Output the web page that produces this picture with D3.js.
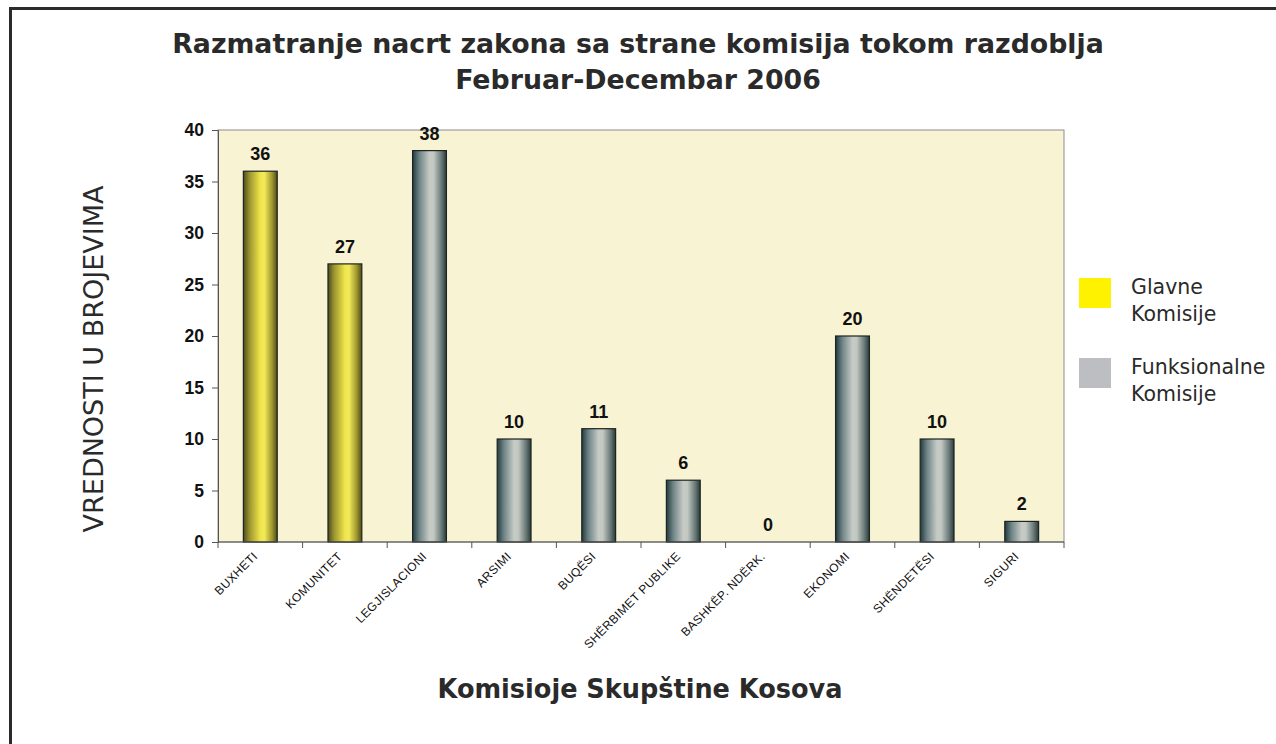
<!DOCTYPE html>
<html>
<head>
<meta charset="utf-8">
<script src="https://cdn.jsdelivr.net/npm/d3@7/dist/d3.min.js"></script>
<style>
  html, body { margin: 0; padding: 0; background: #fff; }
  svg { display: block; }
</style>
</head>
<body>
<svg id="chart" width="1276" height="744"></svg>
<script>
// Committees and number of draft laws reviewed
const categories = ["BUXHETI", "KOMUNITET", "LEGJISLACIONI", "ARSIMI", "BUQËSI",
  "SHËRBIMET PUBLIKE", "BASHKËP. NDËRK.", "EKONOMI", "SHËNDETËSI", "SIGURI"];
const values = [36, 27, 38, 10, 11, 6, 0, 20, 10, 2];
const groups = ["main", "main", "func", "func", "func", "func", "func", "func", "func", "func"];
const yTicks = [0, 5, 10, 15, 20, 25, 30, 35, 40];
const legendItems = [
  { key: "main", lines: ["Glavne", "Komisije"] },
  { key: "func", lines: ["Funksionalne", "Komisije"] }
];
const titleLines = ["Razmatranje nacrt zakona sa strane komisija tokom razdoblja", "Februar-Decembar 2006"];
const yTitle = "VREDNOSTI U BROJEVIMA";
const xTitle = "Komisioje Skupštine Kosova";

const svg = d3.select("#chart");
const plot = { left: 218, right: 1064, top: 130, bottom: 542 };
const sansFont = "DejaVu Sans, Verdana, sans-serif";
const arialFont = "Liberation Sans, Arial, sans-serif";

// Squeeze a text group horizontally so its widest line spans `width` px, centred on cx
function fitWidth(g, cx, width) {
  const w = d3.max(g.selectAll("text").nodes(), n => n.getComputedTextLength());
  const s = Math.min(1, width / w);
  g.attr("transform", `translate(${cx},0) scale(${s},1) translate(${-cx},0)`);
  return s;
}

// Outer frame
svg.append("rect")
  .attr("x", 10.5).attr("y", 8.5)
  .attr("width", 1300).attr("height", 800)
  .attr("fill", "#fff").attr("stroke", "#2b2b2b").attr("stroke-width", 3);

const defs = svg.append("defs");
const gradStops = {
  main: [[0, "#4d4a1c"], [0.18, "#9a9430"], [0.5, "#efe54a"], [0.62, "#f2ea5a"], [0.85, "#9e962c"], [1, "#4f4a18"]],
  func: [[0, "#213a40"], [0.2, "#6f8486"], [0.5, "#c6cbc6"], [0.62, "#c3c8c2"], [0.85, "#6a7a78"], [1, "#283a3c"]]
};
Object.entries(gradStops).forEach(([k, stops]) => {
  const g = defs.append("linearGradient").attr("id", "grad-" + k)
    .attr("x1", "0%").attr("x2", "100%").attr("y1", "0%").attr("y2", "0%");
  stops.forEach(([o, c]) => g.append("stop").attr("offset", o).attr("stop-color", c));
});
const legendColor = { main: "#fff200", func: "#bdbec2" };

const x = d3.scaleBand().domain(categories).range([plot.left, plot.right]).paddingInner(0.6).paddingOuter(0.3);
const y = d3.scaleLinear().domain([0, 40]).range([plot.bottom, plot.top]);

// Plot background
svg.append("rect")
  .attr("x", plot.left).attr("y", plot.top)
  .attr("width", plot.right - plot.left).attr("height", plot.bottom - plot.top)
  .attr("fill", "#f8f3d3").attr("stroke", "#8c8c8c").attr("stroke-width", 1);

// Bars
svg.append("g").selectAll("rect").data(categories).join("rect")
  .attr("x", d => x(d))
  .attr("y", (d, i) => y(values[i]))
  .attr("width", x.bandwidth())
  .attr("height", (d, i) => y(0) - y(values[i]))
  .attr("fill", (d, i) => `url(#grad-${groups[i]})`)
  .attr("stroke", "#1e2420").attr("stroke-width", 1.2);

// Value labels
svg.append("g").selectAll("text").data(categories).join("text")
  .attr("x", d => x(d) + x.bandwidth() / 2)
  .attr("y", (d, i) => y(values[i]) - 11)
  .attr("text-anchor", "middle")
  .attr("font-family", arialFont)
  .attr("font-weight", "bold").attr("font-size", 18).attr("fill", "#111")
  .text((d, i) => values[i]);

// Y axis
const yAxis = svg.append("g").attr("transform", `translate(${plot.left},0)`)
  .call(d3.axisLeft(y).tickValues(yTicks).tickSize(6).tickPadding(8));
yAxis.select(".domain").attr("stroke", "#555");
yAxis.selectAll(".tick line").attr("stroke", "#555");
yAxis.selectAll(".tick text")
  .attr("font-family", arialFont)
  .attr("font-weight", "bold").attr("font-size", 17.5).attr("fill", "#111");

// X axis: ticks at band boundaries
const xAxisG = svg.append("g").attr("transform", `translate(0,${plot.bottom})`);
xAxisG.append("line").attr("x1", plot.left).attr("x2", plot.right)
  .attr("stroke", "#555");
const boundaries = d3.range(categories.length + 1).map(i => plot.left + i * (plot.right - plot.left) / categories.length);
xAxisG.selectAll("line.tk").data(boundaries).join("line").attr("class", "tk")
  .attr("x1", d => d).attr("x2", d => d).attr("y1", 0).attr("y2", 6)
  .attr("stroke", "#555");
xAxisG.selectAll("text").data(categories).join("text")
  .attr("transform", d => `translate(${x(d) + x.bandwidth() / 2 - 2},${15}) rotate(-45)`)
  .attr("text-anchor", "end")
  .attr("font-family", arialFont)
  .attr("font-size", 12).attr("letter-spacing", 0.4).attr("fill", "#111")
  .text(d => d);

// Chart title
const titleG = svg.append("g");
titleG.selectAll("text").data(titleLines).join("text")
  .attr("x", 638).attr("y", (d, i) => 53 + i * 36)
  .attr("text-anchor", "middle")
  .attr("font-family", sansFont).attr("font-weight", "bold")
  .attr("font-size", 27).attr("fill", "#2a2a2a")
  .text(d => d);
fitWidth(titleG, 638, 932);

// Y axis title
const yTitleG = svg.append("g").attr("transform", "translate(103,359) rotate(-90)");
const yInner = yTitleG.append("g");
yInner.append("text")
  .attr("x", 0).attr("y", 0)
  .attr("text-anchor", "middle")
  .attr("font-family", sansFont)
  .attr("font-size", 27).attr("fill", "#2a2a2a")
  .text(yTitle);
fitWidth(yInner, 0, 358);

// X axis title
const xTitleG = svg.append("g");
xTitleG.append("text").attr("x", 640).attr("y", 698)
  .attr("text-anchor", "middle")
  .attr("font-family", sansFont).attr("font-weight", "bold")
  .attr("font-size", 27).attr("fill", "#2a2a2a")
  .text(xTitle);
fitWidth(xTitleG, 640, 405);

// Legend
const lg = svg.append("g").selectAll("g").data(legendItems).join("g")
  .attr("transform", (d, i) => `translate(1079,${278 + i * 80})`);
lg.append("rect").attr("width", 32).attr("height", 30).attr("fill", d => legendColor[d.key]);
lg.selectAll("text").data(d => d.lines).join("text")
  .attr("x", 52).attr("y", (d, i) => 16 + i * 27)
  .attr("font-family", sansFont).attr("font-size", 20.5).attr("fill", "#2a2a2a")
  .text(d => d);
</script>
</body>
</html>
